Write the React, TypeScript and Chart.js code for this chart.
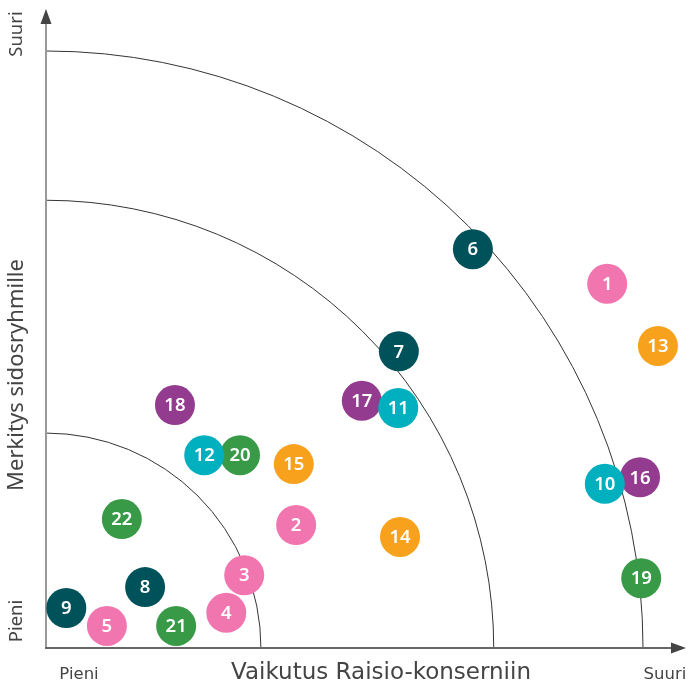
import React, { useEffect, useRef } from "react";
import { Chart, registerables } from "chart.js";

Chart.register(...registerables);

// Topic numbers, positions (impact on x, importance on y, 0..100 scale), colour group
const ids = [1, 2, 3, 4, 5, 6, 7, 8, 9, 10, 11, 12, 13, 14, 15, 16, 17, 18, 19, 20, 21, 22];
const impact = [94.0, 41.9, 33.2, 30.2, 10.2, 71.5, 59.1, 16.6, 3.4, 93.6, 59.0, 26.5, 102.5, 59.3, 41.5, 99.5, 52.9, 21.6, 99.7, 32.5, 21.8, 12.7];
const importance = [61.0, 20.6, 12.2, 5.9, 3.7, 66.8, 49.7, 10.2, 6.7, 27.5, 40.2, 32.3, 50.6, 18.6, 30.8, 28.6, 41.4, 40.7, 11.7, 32.3, 3.7, 21.6];
const groups = ["pink", "pink", "pink", "pink", "pink", "teal", "teal", "teal", "teal", "cyan", "cyan", "cyan", "orange", "orange", "orange", "purple", "purple", "purple", "green", "green", "green", "green"];
const groupColors: Record<string, string> = {
  pink: "#f176b0",
  teal: "#00525a",
  cyan: "#00b0bf",
  orange: "#f7a11d",
  purple: "#933b8f",
  green: "#389a47",
};
const arcRadii = [36, 75, 100];
const axisMax = 107;
const xTitle = "Vaikutus Raisio-konserniin";
const yTitle = "Merkitys sidosryhmille";
const lowLabel = "Pieni";
const highLabel = "Suuri";

const FONT = "'Noto Sans', 'Open Sans', sans-serif";
const FONT2 = "'DejaVu Sans', sans-serif";

const decorPlugin = {
  id: "decor",
  beforeDatasetsDraw(chart: any) {
    const { ctx, scales } = chart;
    const xs = scales.x;
    const ys = scales.y;
    const ox = xs.getPixelForValue(0);
    const oy = ys.getPixelForValue(0);
    ctx.save();
    // arcs
    ctx.strokeStyle = "#333";
    ctx.lineWidth = 1;
    arcRadii.forEach((r) => {
      const rp = xs.getPixelForValue(r) - ox;
      ctx.beginPath();
      ctx.arc(ox, oy, rp, -Math.PI / 2, 0);
      ctx.stroke();
    });
    // y axis
    ctx.strokeStyle = "#999";
    ctx.lineWidth = 2;
    ctx.beginPath();
    ctx.moveTo(ox, oy);
    ctx.lineTo(ox, 20);
    ctx.stroke();
    ctx.fillStyle = "#444";
    ctx.beginPath();
    ctx.moveTo(ox, 9);
    ctx.lineTo(ox - 5.5, 24);
    ctx.lineTo(ox + 5.5, 24);
    ctx.closePath();
    ctx.fill();
    // x axis
    ctx.strokeStyle = "#666";
    ctx.lineWidth = 2;
    ctx.beginPath();
    ctx.moveTo(ox - 1, oy);
    ctx.lineTo(676, oy);
    ctx.stroke();
    ctx.fillStyle = "#444";
    ctx.beginPath();
    ctx.moveTo(686, oy);
    ctx.lineTo(671, oy - 5.5);
    ctx.lineTo(671, oy + 5.5);
    ctx.closePath();
    ctx.fill();
    // texts
    ctx.fillStyle = "#444";
    ctx.textAlign = "center";
    ctx.textBaseline = "middle";
    ctx.font = `23px ${FONT2}`;
    ctx.fillText(xTitle, 381, 673);
    ctx.font = `16.5px ${FONT2}`;
    ctx.fillText(lowLabel, 79, 675);
    ctx.fillText(highLabel, 665, 675);
    ctx.save();
    ctx.translate(17, 375);
    ctx.rotate(-Math.PI / 2);
    ctx.font = `22px ${FONT}`;
    ctx.fillText(yTitle, 0, 0);
    ctx.restore();
    ctx.save();
    ctx.translate(17, 34);
    ctx.rotate(-Math.PI / 2);
    ctx.font = `18.5px ${FONT}`;
    ctx.fillText(highLabel, 0, 0);
    ctx.restore();
    ctx.save();
    ctx.translate(17, 621);
    ctx.rotate(-Math.PI / 2);
    ctx.font = `18.5px ${FONT}`;
    ctx.fillText(lowLabel, 0, 0);
    ctx.restore();
    ctx.restore();
  },
  afterDatasetDraw(chart: any, args: any) {
    const { ctx } = chart;
    const meta = args.meta;
    const ds = chart.data.datasets[args.index];
    ctx.save();
    ctx.fillStyle = "#fff";
    ctx.font = `600 18.5px ${FONT}`;
    ctx.textAlign = "center";
    ctx.textBaseline = "middle";
    meta.data.forEach((el: any) => {
      ctx.fillText(ds.label, el.x, el.y + 1);
    });
    ctx.restore();
  },
};

export default function App() {
  const ref = useRef<HTMLCanvasElement>(null);
  useEffect(() => {
    if (!ref.current) return;
    const datasets = ids.map((id, i) => ({
      label: String(id),
      data: [{ x: impact[i], y: importance[i], r: 20 }],
      backgroundColor: groupColors[groups[i]],
      borderWidth: 0,
      hoverRadius: 0,
    }));
    const chart = new Chart(ref.current, {
      type: "bubble",
      data: { datasets },
      options: {
        animation: false,
        responsive: false,
        maintainAspectRatio: false,
        layout: { autoPadding: false, padding: { left: 46, right: 4.2, top: 9.2, bottom: 36 } },
        scales: {
          x: { type: "linear", min: 0, max: axisMax, display: false },
          y: { type: "linear", min: 0, max: axisMax, display: false },
        },
        plugins: {
          legend: { display: false },
          tooltip: { enabled: false },
        },
        events: [],
      },
      plugins: [decorPlugin],
    });
    return () => chart.destroy();
  }, []);
  return (
    <div style={{ position: "absolute", left: 0, top: 0, width: 689, height: 684, background: "#fff" }}>
      <canvas ref={ref} width={689} height={684} style={{ width: 689, height: 684 }} />
    </div>
  );
}
